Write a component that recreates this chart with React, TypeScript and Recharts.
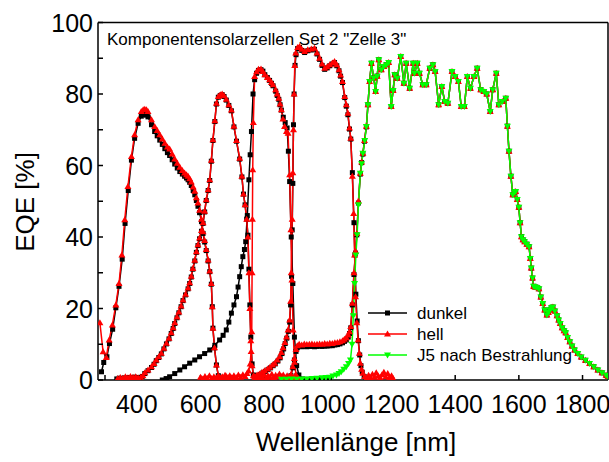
import { Label, Line, LineChart, XAxis, YAxis } from "recharts";

type Pt = [number, number];

// dunkel (black, squares)
const dunkel1: Pt[] = [[289,2.3],[296,4.9],[306,6.5],[314,10.2],[324,14.2],[334,20.2],[344,26.2],[354,33.8],[363,43.8],[373,53],[383,61.5],[393,67.6],[404,71.8],[414,73.8],[420,74.2],[425,74.3],[430,74.1],[435,73.6],[446,71.4],[456,69.5],[464,68.3],[472,67.1],[480,65.9],[488,64.7],[496,63.6],[503,62.8],[511,61.6],[519,60.4],[527,59.3],[535,58.3],[543,57.6],[550,57],[556,56.5],[561,56],[566,55.3],[571,54.4],[577,53],[582,51.8],[587,50.2],[592,48.6],[597,46.8],[603,44.3],[608,41],[613,38.6],[618,36.2],[624,33.3],[629,30.3],[634,26.8],[637,20.5],[639,14.5],[644,9],[650,4.2],[656,1.2],[662,0.4]];
const dunkel2: Pt[] = [[337,0.3],[345,0.5],[353,0.4],[361,0.6],[369,0.5],[377,0.7],[385,0.6],[393,0.8],[401,0.6],[409,0.7],[417,1],[425,1.8],[435,2.6],[446,3.5],[454,4.4],[461,5.4],[469,6.3],[477,7.3],[485,8.7],[493,10.1],[501,11.5],[508,13],[514,14.4],[519,15.8],[526,17.4],[532,18.8],[539,20.5],[545,22.2],[553,23.8],[561,25.5],[566,27],[571,28.8],[576,31],[582,33.3],[587,35.7],[592,37.6],[597,39.5],[603,41.6],[608,43.8],[613,47],[618,50.2],[624,53],[629,55.8],[634,61.2],[639,67],[645,72.3],[650,77.2],[656,79.1],[662,79.6],[668,79.8],[674,79.3],[681,78.3],[689,76.8],[697,75.3],[705,70.8],[713,66.8],[723,61.8],[730,56.8],[735,52],[740,49],[745,45],[749,40.5],[752,31],[755,21],[758,12],[762,4.5],[766,1.4],[770,0.5]];
const dunkel3: Pt[] = [[480,0],[492,0.4],[503,0.9],[519,1.8],[535,2.8],[550,3.7],[566,4.7],[582,5.6],[597,6.5],[613,7.4],[629,8.4],[645,9.7],[660,11.2],[671,12.5],[681,14],[689,16.2],[697,18.7],[705,21],[713,23.3],[718,26],[723,28.9],[728,31.7],[733,34.5],[738,36.5],[742,38.7],[747,46],[752,56],[756,63],[760,69.5],[765,80],[770,84],[776,85.8],[782,86.6],[790,86.8],[796,86.4],[802,85.4],[810,84.6],[817,83.8],[823,83],[828,82.3],[836,80.8],[841,79.6],[846,78.5],[850,77],[854,75.5],[860,73.5],[866,72],[872,70.5],[876,64],[880,55.5],[885,40],[890,27],[895,12],[902,4],[909,1.4],[920,0.3],[935,0.2],[950,0.3],[965,0.2],[980,0.3],[995,0.2],[1005,0.2]];
const dunkel4: Pt[] = [[772,0.8],[780,1.2],[788,1.5],[796,2],[804,2.4],[812,2.9],[820,3.4],[828,4],[835,4.5],[843,5.3],[850,6.2],[856,7.4],[861,8.7],[866,10.2],[871,11.7],[876,13.6],[880,16.2],[883,21],[886,29],[888,42],[890,55],[892,71.4],[894,80],[897,88],[900,91],[905,92.7],[911,93],[918,92.2],[927,91.6],[937,92.1],[948,92.3],[958,92.5],[966,91.2],[974,89.7],[982,88],[990,86.9],[998,87.3],[1006,87.9],[1014,88.4],[1021,88.8],[1028,87.9],[1035,86.5],[1040,85],[1046,83.2],[1053,79],[1058,76.6],[1063,74.2],[1068,70.2],[1072,67.4],[1077,58],[1082,44],[1085,35],[1088,24],[1092,16.5],[1096,11],[1100,7],[1104,4],[1108,2.2],[1114,1],[1120,0.4]];
const dunkel5Start: Pt[] = [[878,0.3],[884,1.2],[890,3.4],[895,5.6],[900,8],[904,9],[910,9.4],[918,9.3],[926,9.4],[934,9.3],[942,9.4],[950,9.4],[958,9.3],[966,9.4],[974,9.5],[982,9.4],[990,9.5],[998,9.5],[1006,9.6],[1014,9.6],[1022,9.8],[1030,9.9],[1038,10.1],[1046,10.4],[1052,10.8],[1058,11.2],[1064,12],[1068,13],[1072,14.6],[1077,21],[1082,29.5],[1087,35.5],[1091,40.6],[1096,49.5],[1102,57.6],[1106,60.8],[1110,63.2],[1115,66.8],[1121,70.8]];

// hell (red, triangles)
const hell1: Pt[] = [[284,16],[294,7.9],[304,6.3],[313,11.2],[323,15.4],[334,21],[344,27],[353,35],[362,44.8],[372,54.1],[383,62.5],[393,68.6],[404,72.8],[414,75.1],[420,75.6],[425,75.7],[430,75.6],[435,75.1],[446,72.8],[456,70.9],[464,69.8],[472,68.6],[480,67.4],[488,66.2],[496,65.2],[503,64.6],[511,63.2],[519,61.8],[527,60.6],[535,59.5],[543,58.6],[550,57.9],[556,57.4],[561,57],[566,56.3],[571,55.4],[577,54],[582,52.8],[587,51],[592,49.5],[597,47.5],[603,45],[608,41.5],[613,39],[618,36.5],[624,33.6],[629,30.5],[634,27],[637,20.5],[639,14.5],[644,9],[650,4.2],[656,1.2],[662,0.5],[668,0.9],[674,0.4],[680,1.1],[686,0.6],[692,1.2],[698,0.5],[704,0.9]];
const hell2: Pt[] = [[340,0.4],[348,0.7],[356,0.5],[364,0.9],[372,0.6],[380,1],[388,0.7],[396,0.9],[404,0.6],[412,0.8],[419,1.2],[425,2],[435,2.8],[446,3.7],[454,4.6],[461,5.6],[469,6.5],[477,7.5],[485,8.9],[493,10.3],[501,11.7],[508,13.2],[514,14.6],[519,16],[526,17.6],[532,19],[539,20.7],[545,22.4],[553,24],[561,25.7],[566,27.2],[571,29],[576,31.2],[582,33.5],[587,35.9],[592,37.8],[597,39.7],[603,41.8],[608,44],[613,47.2],[618,50.4],[624,53.2],[629,56],[634,61.5],[639,67.2],[645,72.5],[650,77.4],[656,79.3],[662,79.8],[668,80],[674,79.5],[681,78.5],[689,77],[697,75.5],[705,71],[713,67],[723,62],[730,57],[735,52],[740,49],[745,45],[749,40],[752,30],[755,20],[758,11],[762,4],[766,1.2],[770,0.5],[776,1.2],[782,0.5],[788,1.3],[794,0.7],[800,1.5],[806,0.6],[812,1.2],[818,0.8],[824,1.6],[830,0.7],[836,1.3],[842,0.9],[848,1.7],[854,1],[860,1.4],[866,0.6],[872,1.2],[878,0.8],[884,1.5],[890,0.7],[896,1.1],[902,0.5]];
const hell3: Pt[] = [[600,0.8],[607,0.3],[614,1],[621,0.5],[628,1.2],[635,0.4],[642,0.9],[649,0.6],[656,1.1],[663,0.4],[670,0.8],[677,1.3],[684,0.5],[691,1],[698,0.6],[705,1.2],[712,0.7],[719,1.4],[726,0.8],[733,1.5],[740,1],[746,1.8],[751,2.5],[756,4.5],[759,8],[761,13.5],[762,30],[763,45],[764,58.8],[766,72],[770,84.9],[776,86.2],[782,86.9],[790,87],[796,86.3],[802,85.4],[810,84.6],[817,84],[823,83.2],[828,82.6],[836,81.2],[841,80],[846,78.8],[850,77.2],[854,75.6],[859,73],[864,70.9],[870,69.5],[875,69],[880,57.4],[884,42],[887,28],[891,14],[895,5],[900,1.5],[905,0.6]];
const hell4: Pt[] = [[770,1],[778,1.4],[785,1.7],[793,2.2],[801,2.6],[810,3.1],[818,3.6],[826,4.2],[833,4.7],[841,5.6],[849,6.5],[854,7.7],[859,9],[865,10.5],[870,12],[875,14],[880,16.8],[883,22],[885,30],[888,45],[890,58],[892,70],[894,80],[896,88],[899,91.5],[905,93],[911,93.3],[918,92.5],[927,91.9],[937,92.4],[948,92.6],[958,92.8],[966,91.5],[974,90],[982,88.4],[990,87.2],[998,87.6],[1006,88.2],[1014,88.7],[1021,89.1],[1028,88.2],[1035,86.8],[1040,85.3],[1046,83.5],[1053,79.3],[1058,77],[1063,74.6],[1068,70.5],[1072,67.6],[1077,57],[1081,46.6],[1084,35],[1087,23.3],[1091,16],[1095,11.2],[1099,7.5],[1102,4.7],[1106,3],[1110,1.9],[1116,1],[1122,0.5],[1128,1.3],[1134,0.6],[1140,1.6],[1146,0.8],[1152,2],[1158,1.1],[1164,0.7],[1170,1.5],[1176,2.2],[1182,0.9],[1188,1.8],[1194,0.7],[1200,1.2],[1205,0.4]];
const hell5Start: Pt[] = [[878,0.5],[884,1.5],[890,3.7],[895,6],[900,8.5],[904,9.6],[910,10],[918,9.8],[926,10.1],[934,9.9],[942,10],[950,10.1],[958,9.9],[966,10],[974,10.1],[982,10],[990,10.2],[998,10.1],[1006,10.3],[1014,10.2],[1022,10.4],[1030,10.5],[1038,10.7],[1046,11],[1052,11.4],[1058,11.8],[1064,12.6],[1068,13.5],[1072,15],[1077,21.5],[1082,30],[1087,36],[1091,41],[1096,50],[1102,57.8],[1106,61],[1110,63.4],[1115,67],[1121,71]];

// J5 nach Bestrahlung (green, down triangles)
const j5Start: Pt[] = [[854,0.2],[870,0.2],[886,0.3],[902,0.2],[918,0.3],[934,0.3],[950,0.4],[966,0.5],[982,0.6],[994,0.7],[1006,0.8],[1016,1.1],[1027,1.4],[1035,1.8],[1042,2.3],[1050,3],[1058,3.7],[1065,4.6],[1071,5.6],[1076,10],[1080,18],[1084,27],[1088,35],[1092,40.6],[1096,49],[1102,57.8],[1106,60.5],[1110,63.4],[1116,67],[1121,70.9]];

// long-wavelength cell, shared by all three measurements
const cell5: Pt[] = [[1126,77],[1131,83.5],[1137,88.6],[1144,84.5],[1150,80.7],[1155,85],[1160,89.6],[1168,86.8],[1176,87.7],[1184,88.2],[1191,88.8],[1199,76.5],[1205,81],[1210,85.4],[1218,84.4],[1229,90.5],[1239,83],[1246,88.6],[1257,81.6],[1268,88.6],[1272,85.8],[1281,88.6],[1288,85.8],[1298,82.6],[1309,82.6],[1320,87.2],[1330,88.2],[1337,86.3],[1348,77],[1358,82.1],[1367,77.9],[1377,77.4],[1390,86.3],[1400,84.9],[1410,83.5],[1419,76.5],[1429,76.5],[1438,84.9],[1448,81.6],[1459,84.9],[1469,87.2],[1480,81.2],[1490,80.7],[1499,80],[1510,75.1],[1518,81.2],[1529,85.8],[1537,77],[1548,77.9],[1559,78.8],[1564,71],[1569,64],[1575,57],[1581,51.8],[1586,52.6],[1590,52.7],[1595,50.5],[1600,48.3],[1604,44],[1608,40.1],[1613,39.2],[1618,38.7],[1625,38],[1632,37.3],[1636,34],[1639,31.3],[1643,28.5],[1646,26.2],[1651,26],[1657,25.9],[1663,25.5],[1669,23.2],[1675,21.4],[1681,19.6],[1688,18.2],[1693,18.9],[1697,19.6],[1702,20.2],[1707,20.4],[1713,19.3],[1720,18],[1725,16.8],[1730,15.8],[1736,14.6],[1742,13.8],[1747,13.2],[1753,11.9],[1760,10.7],[1767,9.5],[1775,8.4],[1785,7.4],[1796,6.4],[1809,5.5],[1822,4.6],[1835,3.7],[1848,2.8],[1861,2],[1874,1.3],[1880,1]];

const xTicks = [300, 400, 500, 600, 700, 800, 900, 1000, 1100, 1200, 1300, 1400, 1500, 1600, 1700, 1800];
const yTicks = [0, 10, 20, 30, 40, 50, 60, 70, 80, 90, 100];
const legendItems = ["dunkel", "hell", "J5 nach Bestrahlung"];
const note = 'Komponentensolarzellen Set 2 "Zelle 3"';

const FONT = "'Liberation Sans', Arial, sans-serif";
const BLACK = "#000000";
const RED = "#ff0000";
const GREEN = "#00ff00";

const rows = (pts: Pt[]) => pts.map(([wl, eqe]) => ({ wl, eqe }));

const marker = (kind: string, color: string, cx: number, cy: number, key?: string) => {
  if (kind === "square")
    return <rect key={key} x={cx - 2.5} y={cy - 2.5} width={5} height={5} fill={color} />;
  if (kind === "up")
    return <polygon key={key} points={`${cx},${cy - 3.5} ${cx - 3.5},${cy + 2.5} ${cx + 3.5},${cy + 2.5}`} fill={color} />;
  return <polygon key={key} points={`${cx},${cy + 3.5} ${cx - 3.5},${cy - 2.5} ${cx + 3.5},${cy - 2.5}`} fill={color} />;
};

const series = [
  { id: "d1", pts: dunkel1, color: BLACK, kind: "square" },
  { id: "d2", pts: dunkel2, color: BLACK, kind: "square" },
  { id: "d3", pts: dunkel3, color: BLACK, kind: "square" },
  { id: "d4", pts: dunkel4, color: BLACK, kind: "square" },
  { id: "d5", pts: [...dunkel5Start, ...cell5], color: BLACK, kind: "square" },
  { id: "h1", pts: hell1, color: RED, kind: "up" },
  { id: "h2", pts: hell2, color: RED, kind: "up" },
  { id: "h3", pts: hell3, color: RED, kind: "up" },
  { id: "h4", pts: hell4, color: RED, kind: "up" },
  { id: "h5", pts: [...hell5Start, ...cell5], color: RED, kind: "up" },
  { id: "g5", pts: [...j5Start, ...cell5], color: GREEN, kind: "down" },
];

const legendStyle = [
  { color: BLACK, kind: "square" },
  { color: RED, kind: "up" },
  { color: GREEN, kind: "down" },
];

const XTick = (props: any) => {
  const { x, y, payload } = props;
  if (payload.value % 200 !== 0) return <g />;
  return (
    <text x={x} y={y} dy={38} textAnchor="middle" fontSize={25} fontFamily={FONT} fill="#000">
      {payload.value}
    </text>
  );
};

const YTick = (props: any) => {
  const { x, y, payload } = props;
  if (payload.value % 20 !== 0) return <g />;
  return (
    <text x={x} y={y} dy={9} textAnchor="end" fontSize={25} fontFamily={FONT} fill="#000">
      {payload.value}
    </text>
  );
};

const Overlay = () => (
  <g fontFamily={FONT} fill="#000">
    <text x={356} y={451} textAnchor="middle" fontSize={26}>
      Wellenlänge [nm]
    </text>
    <text x={107} y={45} fontSize={17}>{note}</text>
    {legendItems.map((name, i) => {
      const cy = 313 + i * 21;
      return (
        <g key={name}>
          <line x1={368} x2={407} y1={cy} y2={cy} stroke={legendStyle[i].color} strokeWidth={1.5} />
          {marker(legendStyle[i].kind, legendStyle[i].color, 387.5, cy)}
          <text x={417} y={cy + 6} fontSize={17}>{name}</text>
        </g>
      );
    })}
  </g>
);

export default function App() {
  return (
    <div style={{ position: "absolute", left: 0, top: 0, background: "#fff" }}>
      <LineChart width={609} height={462} margin={{ top: 21.5, right: 0, bottom: 0, left: 0 }}>
        <XAxis
          dataKey="wl"
          type="number"
          domain={[278, 1880]}
          ticks={xTicks}
          allowDataOverflow
          height={82}
          tickSize={-5}
          tickMargin={0}
          tick={<XTick />}
          stroke="#000"
          strokeWidth={1.5}
        >
          <Label content={() => <Overlay />} />
        </XAxis>
        <XAxis
          xAxisId="top"
          orientation="top"
          type="number"
          domain={[278, 1880]}
          ticks={xTicks}
          allowDataOverflow
          height={1}
          tickSize={-5}
          tick={false}
          stroke="#000"
          strokeWidth={1.5}
        />
        <YAxis
          type="number"
          domain={[0, 100]}
          ticks={yTicks}
          allowDataOverflow
          width={98}
          tickSize={-5}
          tickMargin={10}
          tick={<YTick />}
          stroke="#000"
          strokeWidth={1.5}
        >
          <Label
            content={() => (
              <text
                x={34}
                y={202}
                transform="rotate(-90 34 202)"
                textAnchor="middle"
                fontSize={26}
                fontFamily={FONT}
                fill="#000"
              >
                EQE [%]
              </text>
            )}
          />
        </YAxis>
        <YAxis
          yAxisId="right"
          orientation="right"
          type="number"
          domain={[0, 100]}
          ticks={yTicks}
          allowDataOverflow
          width={1}
          tickSize={-5}
          tick={false}
          stroke="#000"
          strokeWidth={1.5}
        />
        {series.map((s) => (
          <Line
            key={s.id}
            data={rows(s.pts)}
            dataKey="eqe"
            type="linear"
            stroke={s.color}
            strokeWidth={1.5}
            isAnimationActive={false}
            legendType="none"
            dot={(p: any) => marker(s.kind, s.color, p.cx, p.cy, `${s.id}-${p.index}`)}
          />
        ))}
      </LineChart>
    </div>
  );
}
